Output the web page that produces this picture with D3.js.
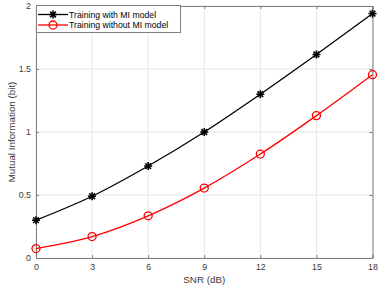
<!DOCTYPE html>
<html>
<head>
<meta charset="utf-8">
<script src="https://cdn.jsdelivr.net/npm/d3@7"></script>
<style>
  body { margin: 0; background: #fff; }
  svg { display: block; font-family: "Liberation Sans", Arial, sans-serif; }
</style>
</head>
<body>
<div id="chart"></div>
<script>
// chart data
const snr = [0, 3, 6, 9, 12, 15, 18];
const withMI = [0.30, 0.49, 0.73, 1.00, 1.30, 1.615, 1.94];
const withoutMI = [0.075, 0.17, 0.335, 0.555, 0.825, 1.13, 1.455];
const xTicks = [0, 3, 6, 9, 12, 15, 18];
const yTicks = [0, 0.5, 1, 1.5, 2];
const seriesNames = ["Training with MI model", "Training without MI model"];

const width = 382, height = 286;
const margin = { top: 6, right: 9.5, bottom: 28, left: 36 };

const svg = d3.select("#chart").append("svg")
    .attr("width", width)
    .attr("height", height);

const x = d3.scaleLinear().domain([0, 18]).range([margin.left, width - margin.right]);
const y = d3.scaleLinear().domain([0, 2]).range([height - margin.bottom, margin.top]);

const axisColor = "#808080";
const textColor = "#3a3a3a";

// grid lines
const grid = svg.append("g").attr("class", "grid");
grid.selectAll("line.gx")
    .data(xTicks)
    .enter().append("line")
    .attr("x1", d => x(d)).attr("x2", d => x(d))
    .attr("y1", y(0)).attr("y2", y(2))
    .attr("stroke", "#e6e6e6").attr("stroke-width", 1);
grid.selectAll("line.gy")
    .data(yTicks)
    .enter().append("line")
    .attr("x1", x(0)).attr("x2", x(18))
    .attr("y1", d => y(d)).attr("y2", d => y(d))
    .attr("stroke", "#e6e6e6").attr("stroke-width", 1);

// axes
const xAxis = svg.append("g")
    .attr("transform", `translate(0,${y(0)})`)
    .call(d3.axisBottom(x).tickValues(xTicks).tickSize(-3).tickPadding(6).tickFormat(d3.format("d")));
const xAxisTop = svg.append("g")
    .attr("transform", `translate(0,${y(2)})`)
    .call(d3.axisTop(x).tickValues(xTicks).tickSize(-3).tickFormat(""));
const yAxis = svg.append("g")
    .attr("transform", `translate(${x(0)},0)`)
    .call(d3.axisLeft(y).tickValues(yTicks).tickSize(-3).tickPadding(5).tickFormat(d => d3.format("")(d)));
const yAxisRight = svg.append("g")
    .attr("transform", `translate(${x(18)},0)`)
    .call(d3.axisRight(y).tickValues(yTicks).tickSize(-3).tickFormat(""));

[xAxis, xAxisTop, yAxis, yAxisRight].forEach(a => {
    a.select(".domain").attr("stroke", axisColor);
    a.selectAll(".tick line").attr("stroke", axisColor);
    a.selectAll(".tick text").attr("fill", textColor).style("font-size", "8.8px");
});

// axis labels
svg.append("text")
    .attr("x", (x(0) + x(18)) / 2)
    .attr("y", 283)
    .attr("text-anchor", "middle")
    .attr("fill", textColor)
    .style("font-size", "9.8px")
    .text("SNR (dB)");

svg.append("text")
    .attr("transform", `translate(14.5,${(y(0) + y(2)) / 2}) rotate(-90)`)
    .attr("text-anchor", "middle")
    .attr("fill", textColor)
    .style("font-size", "9.8px")
    .text("Mutual Information (bit)");

// series lines
const line = d3.line().x((d, i) => x(snr[i])).y(d => y(d)).curve(d3.curveMonotoneX);

svg.append("path")
    .datum(withMI)
    .attr("d", line)
    .attr("fill", "none")
    .attr("stroke", "#000")
    .attr("stroke-width", 1.3);

svg.append("path")
    .datum(withoutMI)
    .attr("d", line)
    .attr("fill", "none")
    .attr("stroke", "#ff0000")
    .attr("stroke-width", 1.3);

// asterisk marker
function star(g, cx, cy, r) {
    const s = g.append("g").attr("transform", `translate(${cx},${cy})`);
    [0, 45, 90, 135].forEach(a => {
        const rad = a * Math.PI / 180;
        s.append("line")
            .attr("x1", -r * Math.cos(rad)).attr("y1", -r * Math.sin(rad))
            .attr("x2", r * Math.cos(rad)).attr("y2", r * Math.sin(rad))
            .attr("stroke", "#000").attr("stroke-width", 1.6);
    });
}

const markers = svg.append("g");
withMI.forEach((v, i) => star(markers, x(snr[i]), y(v), 4));

markers.selectAll("circle")
    .data(withoutMI)
    .enter().append("circle")
    .attr("cx", (d, i) => x(snr[i]))
    .attr("cy", d => y(d))
    .attr("r", 4)
    .attr("fill", "none")
    .attr("stroke", "#ff0000")
    .attr("stroke-width", 1.3);

// legend
const legend = svg.append("g");
legend.append("rect")
    .attr("x", 36.5).attr("y", 5.5)
    .attr("width", 144).attr("height", 27)
    .attr("fill", "#fff")
    .attr("stroke", axisColor)
    .attr("stroke-width", 1);

const legendColors = ["#000", "#ff0000"];
seriesNames.forEach((name, i) => {
    const ly = 14.5 + i * 10.5;
    legend.append("line")
        .attr("x1", 38).attr("x2", 68)
        .attr("y1", ly).attr("y2", ly)
        .attr("stroke", legendColors[i]).attr("stroke-width", 1.3);
    if (i === 0) {
        star(legend, 53, ly, 4);
    } else {
        legend.append("circle")
            .attr("cx", 53).attr("cy", ly).attr("r", 4)
            .attr("fill", "none").attr("stroke", "#ff0000").attr("stroke-width", 1.3);
    }
    legend.append("text")
        .attr("x", 69).attr("y", ly + 3)
        .attr("fill", "#000")
        .style("font-size", "8.7px")
        .text(name);
});
</script>
</body>
</html>
